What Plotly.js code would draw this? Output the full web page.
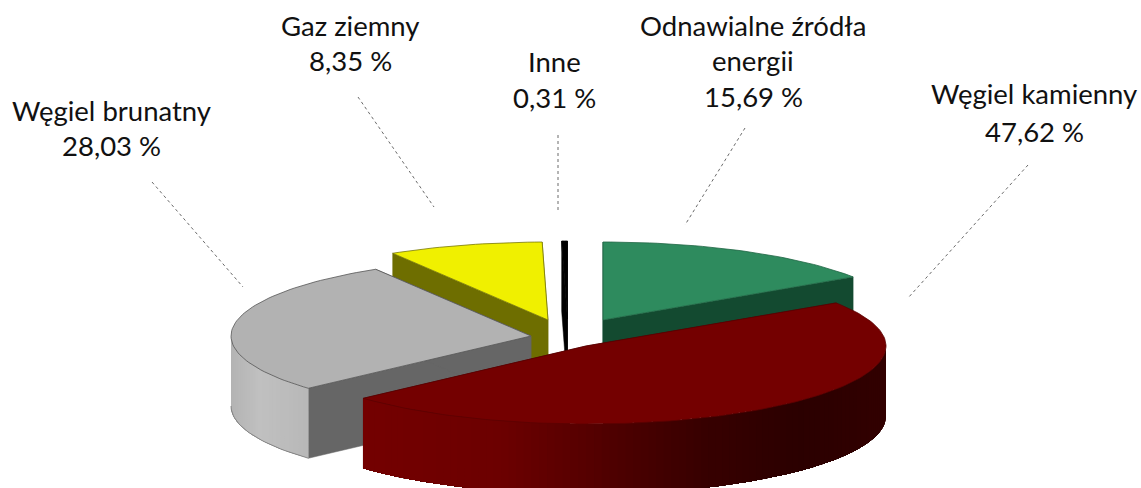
<!DOCTYPE html>
<html><head><meta charset="utf-8">
<script src="https://cdn.plot.ly/plotly-3.0.1.min.js"></script>
<style>html,body{margin:0;padding:0;background:#fff}#c{width:1141px;height:488px}</style>
</head><body><div id="c"></div>
<script>
// Data (clockwise from 12 o'clock)
const names = ['Odnawialne źródła<br>energii', 'Węgiel kamienny', 'Węgiel brunatny', 'Gaz ziemny', 'Inne'];
const shares = [15.69, 47.62, 28.03, 8.35, 0.31];
const shareLabels = ['15,69 %', '47,62 %', '28,03 %', '8,35 %', '0,31 %'];

// Styling and geometry of the tilted, exploded pie
const topColors = ['#2e8b5e', '#740000', '#b2b2b2', '#f0f000', '#000000'];
const cutColors = ['#134a30', '#4a0000', '#666666', '#6e6e00', '#000000'];
const edgeColors = ['#1f6644', '#5c0000', '#555555', '#77770a', '#000000'];
const rimEdges = [null, null, '#6a6a6a', null, null];
const apexX = [603, 586, 531, 548, 567.5];
const apexY = [320, 346, 336, 320, 319];
const drawOrder = [0, 4, 3, 2, 1];
const rimStops = [
  null,
  [[362,'#740000'],[500,'#6c0000'],[600,'#520000'],[700,'#380000'],[800,'#2b0000'],[887,'#320000']],
  [[231,'#b4b4b4'],[260,'#c0c0c0'],[308,'#b8b8b8']],
  null, null
];
const R = 300, K = 0.26, DEPTH = 70;
const labelPos = [[753,[25,60,96]],[1034,[93,131]],[111,[110,145]],[350,[25,60]],[554,[61,97]]];
const leaders = [[745,128,685,225],[1028,165,908,298],[152,182,243,287],[358,97,434,207],[558,135,558,210]];

const hex = c => [1,3,5].map(i => parseInt(c.substr(i,2),16));
function rimColor(stops, x){
  if (x <= stops[0][0]) return stops[0][1];
  for (let i = 1; i < stops.length; i++) {
    if (x <= stops[i][0]) {
      const a = hex(stops[i-1][1]), b = hex(stops[i][1]);
      const t = (x - stops[i-1][0]) / (stops[i][0] - stops[i-1][0]);
      return 'rgb(' + a.map((v,j) => Math.round(v + (b[j]-v)*t)).join(',') + ')';
    }
  }
  return stops[stops.length-1][1];
}
const poly = (xs, ys, fill, line, w) => ({
  type:'scatter', mode: w ? 'lines' : 'none', x: xs.concat(xs[0]), y: ys.concat(ys[0]),
  fill:'toself', fillcolor: fill, line:{color: line || fill, width: w || 0},
  hoverinfo:'skip', showlegend:false
});

// angular extent of each slice
const starts = [], ends = [];
let cur = 90;
shares.forEach(v => { starts.push(cur); cur -= v * 3.6; ends.push(cur); });

const traces = [];
drawOrder.forEach(i => {
  const start = starts[i], end = ends[i];
  const ax = apexX[i], ay = apexY[i];
  const px = d => ax + R * Math.cos(d*Math.PI/180);
  const py = d => ay - K * R * Math.sin(d*Math.PI/180);
  // cut faces
  [start, end].forEach(d => {
    traces.push(poly([ax, px(d), px(d), ax], [ay, py(d), py(d)+DEPTH, ay+DEPTH], cutColors[i], cutColors[i], 0.5));
  });
  // front rim: each strip reaches to the arc's far end, later strips paint over
  if (rimStops[i]) {
    const from = Math.min(start, 0), to = Math.max(end, -180);
    const n = Math.ceil((from - to) / 1.5);
    const sweep = [];
    for (let j = 0; j <= n; j++) sweep.push(from - (from-to)*j/n);
    for (let j = 0; j < n; j++) {
      const part = sweep.slice(j);
      const c = rimColor(rimStops[i], (px(sweep[j])+px(sweep[j+1]))/2);
      traces.push(poly(part.map(px).concat(part.slice().reverse().map(px)),
                       part.map(py).concat(part.slice().reverse().map(d => py(d)+DEPTH)), c));
    }
    if (rimEdges[i]) {
      traces.push({type:'scatter', mode:'lines', x:sweep.map(px), y:sweep.map(d=>py(d)+DEPTH),
        line:{color:rimEdges[i], width:0.7}, hoverinfo:'skip', showlegend:false});
    }
  }
  // top surface
  const xs = [ax], ys = [ay];
  const m = Math.max(2, Math.ceil((start - end) / 1.5));
  for (let j = 0; j <= m; j++) {
    const d = start - (start-end)*j/m;
    xs.push(px(d)); ys.push(py(d));
  }
  traces.push(poly(xs, ys, topColors[i], edgeColors[i], 0.8));
});

const annotations = [];
names.forEach((n, i) => {
  const lines = n.split('<br>').concat(shareLabels[i]);
  lines.forEach((t, j) => annotations.push({
    x: labelPos[i][0], y: labelPos[i][1][j], xref:'x', yref:'y', text:t, showarrow:false,
    xanchor:'center', yanchor:'middle', font:{family:'Lato, Carlito, sans-serif', size:27.5, color:'#111111'}
  }));
});
const shapes = leaders.map(l => ({
  type:'line', xref:'x', yref:'y', x0:l[0], y0:l[1], x1:l[2], y1:l[3],
  line:{color:'#444444', width:0.8, dash:'dot'}
}));

Plotly.newPlot('c', traces, {
  width:1141, height:488, margin:{l:0,r:0,t:0,b:0},
  paper_bgcolor:'#ffffff', plot_bgcolor:'#ffffff', showlegend:false,
  xaxis:{range:[0,1141], visible:false, fixedrange:true},
  yaxis:{range:[488,0], visible:false, fixedrange:true},
  annotations, shapes
}, {displayModeBar:false, staticPlot:true});
</script></body></html>
